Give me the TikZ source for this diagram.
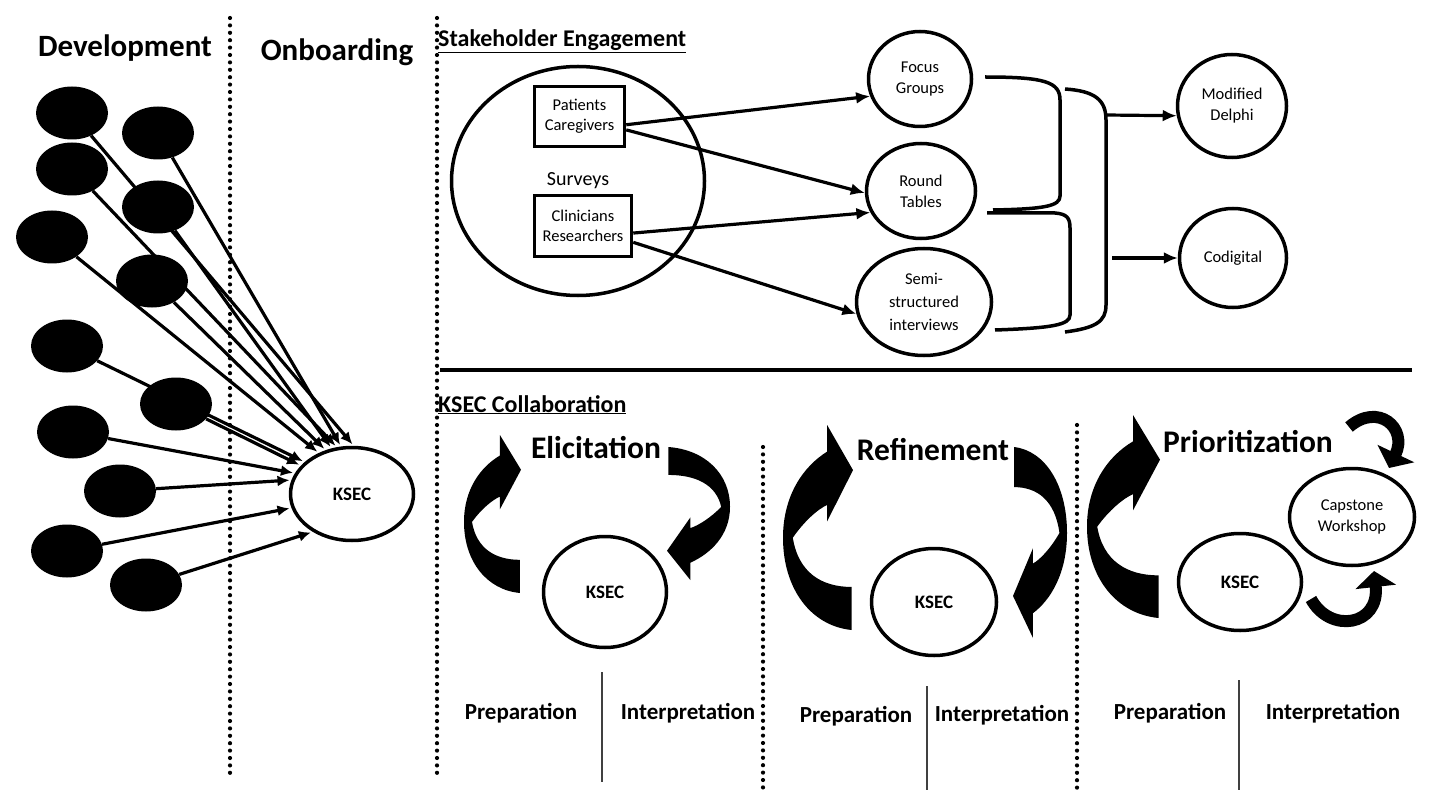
\documentclass[tikz,border=0pt]{standalone}
\usepackage{fontspec}
\setmainfont{Carlito}
\usetikzlibrary{arrows.meta,shapes.geometric}

\newcommand\fsz[2]{\fontsize{#1}{#2}\selectfont}
% block arrow bent like a "C": tail at bottom right, head at top pointing right (unit box)
\newcommand\bendblockfill{%
  \fill (0.98,0) -- (0.98,0.21)
    .. controls (0.55,0.21) and (0.22,0.28) .. (0.14,0.45)
    .. controls (0.3,0.53) and (0.5,0.59) .. (0.63,0.61)
    -- (0.63,0.53) -- (1,0.78) -- (0.63,1) -- (0.63,0.87)
    .. controls (0.3,0.8) and (0,0.66) .. (0,0.45)
    .. controls (0,0.2) and (0.4,0.02) .. (0.98,0) -- cycle;}

\tikzset{
  devdot/.style={ellipse, fill=black, minimum width=72pt, minimum height=53pt, inner sep=0pt},
  ring/.style={ellipse, draw, line width=3.5pt, inner sep=0pt, align=center, font=\fsz{16.5}{21}},
  kring/.style={ellipse, draw, line width=3.5pt, inner sep=0pt, font=\fsz{19}{22}\bfseries},
  srcbox/.style={draw, line width=3.5pt, inner sep=0pt, align=center, font=\fsz{16.5}{20}},
  feed/.style={line width=3.2pt, -{Latex[length=12pt,width=11pt]}, shorten >=2pt},
  link/.style={line width=3.2pt, -{Latex[length=14pt,width=12pt]}},
  brace/.style={line width=3.5pt},
  dots/.style={line width=4.2pt, dash pattern=on 0pt off 7.4pt, line cap=round},
  split/.style={line width=1.6pt, black!75},
  hdr/.style={font=\fsz{31}{36}\bfseries, inner sep=0pt},
  sect/.style={font=\fsz{24}{28}\bfseries, inner sep=0pt},
  phase/.style={font=\fsz{31.5}{36}\bfseries, inner sep=0pt},
  sub/.style={font=\fsz{23}{28}\bfseries, inner sep=0pt},
  loop/.style={line width=12pt, -{Triangle[width=40pt,length=16pt]}}
}

\begin{document}
\begin{tikzpicture}[x=1pt,y=-1pt]
\useasboundingbox (0,0) rectangle (1429,794);

% ---------- column separators ----------
\draw[dots] (230,18) -- (230,780);
\draw[dots] (437,18) -- (437,776);
\draw[dots] (763,447) -- (763,790);
\draw[dots] (1077,425) -- (1077,790);
\draw[line width=3.5pt] (440,370) -- (1412,370);

% ---------- headings ----------
\node[hdr, anchor=base] (tdev) at (125,57) {Development};
\node[hdr, anchor=base] (tonb) at (337,61) {Onboarding};
\node[sect, anchor=base west] (tse) at (438,47) {\underline{Stakeholder Engagement}};
\node[sect, anchor=base west] (tkc) at (438,412) {\underline{KSEC Collaboration}};

% ---------- development / onboarding ----------
\node[kring, minimum width=123pt, minimum height=93pt] (ko) at (352,494) {KSEC};
\node[devdot] (e1) at (72,113) {};
\node[devdot] (e2) at (158,133) {};
\node[devdot] (e3) at (72,169) {};
\node[devdot] (e4) at (158,207) {};
\node[devdot] (e5) at (52,237) {};
\node[devdot] (e6) at (152,281) {};
\node[devdot] (e7) at (67,346) {};
\node[devdot] (e8) at (176,404) {};
\node[devdot] (e9) at (73,432) {};
\node[devdot] (e10) at (120,491) {};
\node[devdot] (e11) at (67,551) {};
\node[devdot] (e12) at (146,585) {};

\draw[feed] (e1) -- (ko.88);
\draw[feed] (e2) -- (ko.103);
\draw[feed] (e3) -- (ko.108);
\draw[feed] (e4) -- (ko.114);
\draw[feed] (e6) -- (ko.121);
\draw[feed] (e5) -- (ko.129);
\draw[feed] (e7) -- (ko.146);
\draw[feed] (e8) -- (ko.151);
\draw[feed] (e9) -- (ko.160);
\draw[feed] (e10) -- (ko.167);
\draw[feed] (e11) -- (ko.193);
\draw[feed] (e12) -- (ko.224);

% ---------- stakeholder engagement ----------
\node[ring, font=\fsz{20}{24}, minimum width=253pt, minimum height=229pt] (sv) at (578,181) {Surveys};
\node[srcbox, minimum width=90pt, minimum height=60pt] (pc) at (579.5,116.5) {Patients\\Caregivers};
\node[srcbox, minimum width=97pt, minimum height=61pt] (cr) at (583,226) {Clinicians\\Researchers};

\node[ring, minimum width=103pt, minimum height=95pt] (fg) at (920,79) {Focus\\Groups};
\node[ring, minimum width=109pt, minimum height=95pt] (rt) at (921,191) {Round\\Tables};
\node[ring, font=\fsz{16.5}{23}, minimum width=135pt, minimum height=107pt] (sm) at (924,302) {Semi-\\structured\\interviews};
\node[ring, minimum width=109pt, minimum height=103pt] (md) at (1232,106) {Modified\\Delphi};
\node[ring, minimum width=107pt, minimum height=99pt] (cd) at (1233,258) {Codigital};

\draw[link] (pc.-10) -- (fg.199);
\draw[link] (pc.-16) -- (rt.182);
\draw[link] (cr.-8) -- (rt.203);
\draw[link] (cr.-18) -- (sm.190);

% merging brackets
\draw[brace] (985,77) .. controls (1045,77) and (1060,82) .. (1060,100)
  -- (1060,196) .. controls (1060,206) and (1045,209) .. (993,210);
\draw[brace] (987,213) -- (1055,213) .. controls (1067,214) and (1070,218) .. (1070,228)
  -- (1070,315) .. controls (1070,325) and (1052,328) .. (995,330);
\draw[brace] (1065,89) .. controls (1095,91) and (1106,100) .. (1106,120)
  -- (1106,305) .. controls (1106,322) and (1095,328) .. (1065,332);
\coordinate (bt) at (1106,115);
\coordinate (bb) at (1112,258);
\draw[link] (bt) -- (md.190);
\draw[link] (bb) -- (cd.west);

% ---------- KSEC collaboration ----------
\node[phase, anchor=base] (pel) at (596,458) {Elicitation};
\node[phase, anchor=base] (pre) at (933,460) {Refinement};
\node[phase, anchor=base] (ppr) at (1248,452) {Prioritization};

\node[kring, minimum width=123pt, minimum height=111pt] (k1) at (605,592) {KSEC};
\node[kring, minimum width=125pt, minimum height=107pt] (k2) at (934,602) {KSEC};
\node[kring, minimum width=123pt, minimum height=97pt] (k3) at (1240,582) {KSEC};
\node[ring, minimum width=125pt, minimum height=97pt] (cw) at (1352,517) {Capstone\\Workshop};

% cycle arrows
\begin{scope}[shift={(464,593)}, xscale=57, yscale=-158] \bendblockfill \end{scope}
\begin{scope}[shift={(730,447)}, xscale=-63, yscale=133] \bendblockfill \end{scope}
\begin{scope}[shift={(783,630)}, xscale=70, yscale=-205] \bendblockfill \end{scope}
\begin{scope}[shift={(1067,447)}, xscale=-54, yscale=191] \bendblockfill \end{scope}
\begin{scope}[shift={(1087,618)}, xscale=73, yscale=-203] \bendblockfill \end{scope}

\coordinate (wa) at (1349,427);
\coordinate (wb) at (1389,468);
\coordinate (wc) at (1311,599);
\coordinate (wd) at (1374,571);
\draw[loop] (wa) .. controls (1378,402) and (1408,428) .. (wb);
\draw[loop] (wc) .. controls (1330,634) and (1380,626) .. (wd);

% preparation / interpretation
\draw[split] (602,672) -- (602,782);
\draw[split] (927,686) -- (927,790);
\draw[split] (1239,680) -- (1239,790);
\node[sub, anchor=base] (pp1) at (521,719) {Preparation};
\node[sub, anchor=base] (pi1) at (688,719) {Interpretation};
\node[sub, anchor=base] (pp2) at (856,722) {Preparation};
\node[sub, anchor=base] (pi2) at (1002,721) {Interpretation};
\node[sub, anchor=base] (pp3) at (1170,719) {Preparation};
\node[sub, anchor=base] (pi3) at (1333,719) {Interpretation};
\end{tikzpicture}
\end{document}
